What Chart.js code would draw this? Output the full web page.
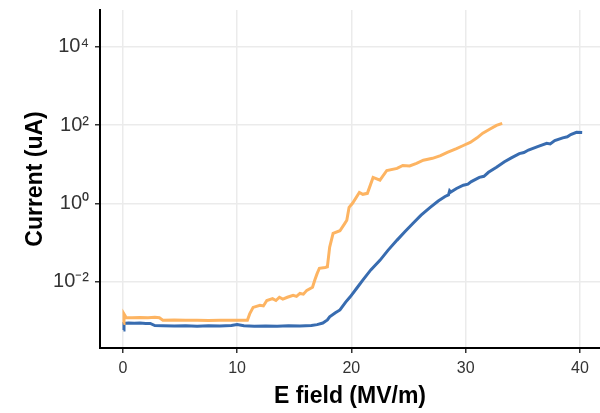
<!DOCTYPE html>
<html>
<head>
<meta charset="utf-8">
<script src="https://cdn.jsdelivr.net/npm/chart.js@4/dist/chart.umd.min.js"></script>
<style>
html,body{margin:0;padding:0;background:#fff;}
#c{display:block;}
</style>
</head>
<body>
<canvas id="c" width="600" height="413"></canvas>
<script>
// E field (MV/m) and current (uA) readings
const blueX = [0.05,0.1,0.5,1.0,1.5,2.0,2.4,2.8,3.5,4.5,5.5,6.5,7.5,8.5,9.5,10.0,10.6,11.5,12.5,13.5,14.5,15.5,16.5,17.0,17.5,17.9,18.1,18.6,19.0,19.5,19.9,20.5,21.0,21.7,22.5,23.2,24.0,24.7,25.4,26.1,26.9,27.6,28.2,28.5,28.6,28.7,29.2,29.8,30.2,30.5,31.2,31.6,32.0,32.7,33.4,34.0,34.7,35.1,35.5,36.3,37.1,37.4,37.8,38.5,38.9,39.2,39.7,40.2];
const blueY = [5.8e-4,8.6e-4,8.8e-4,8.7e-4,8.8e-4,8.6e-4,8.6e-4,7.6e-4,7.5e-4,7.4e-4,7.5e-4,7.3e-4,7.5e-4,7.4e-4,7.6e-4,8.0e-4,7.5e-4,7.3e-4,7.4e-4,7.3e-4,7.5e-4,7.4e-4,7.6e-4,8.0e-4,8.8e-4,1.05e-3,1.26e-3,1.6e-3,1.9e-3,3.0e-3,4.1e-3,7.0e-3,1.1e-2,2.0e-2,3.5e-2,6.3e-2,0.115,0.19,0.31,0.50,0.79,1.15,1.5,1.65,2.1,1.95,2.4,2.9,3.1,3.6,4.6,4.9,6.2,8.3,11.5,14.5,18.6,19.8,23,28,34,33,40,47,50,57,65,64];

const orangeX = [0.05,0.1,0.3,0.8,1.5,2.2,2.8,3.2,3.5,4.5,5.5,6.5,7.5,8.5,9.5,10.5,10.9,11.1,11.4,12.0,12.3,12.6,13.1,13.4,13.7,14.0,14.4,14.9,15.2,15.5,15.8,16.1,16.6,16.8,17.0,17.2,17.7,17.9,18.1,18.4,19.0,19.4,19.6,19.8,20.1,20.7,21.0,21.4,21.9,22.5,23.1,24.0,24.5,25.1,25.7,26.3,27.1,27.8,28.4,29.2,29.8,30.4,31.0,31.5,32.1,32.7,33.2];
const orangeY = [8.5e-4,1.5e-3,1.2e-3,1.19e-3,1.22e-3,1.2e-3,1.23e-3,1.2e-3,1.04e-3,1.05e-3,1.03e-3,1.04e-3,1.02e-3,1.04e-3,1.03e-3,1.04e-3,1.03e-3,1.5e-3,2.2e-3,2.5e-3,2.4e-3,3.3e-3,3.7e-3,3.3e-3,4.0e-3,3.6e-3,4.0e-3,4.5e-3,4.2e-3,5.0e-3,4.8e-3,6.0e-3,7.2e-3,1.1e-2,1.6e-2,2.2e-2,2.3e-2,2.4e-2,7.6e-2,0.17,0.20,0.30,0.37,0.79,1.0,1.9,1.7,1.8,4.6,3.9,6.9,7.8,9.3,9.0,10.5,12.6,14.1,16.5,20,25,30,36,47,62,78,98,110];

const xTicks = [0, 10, 20, 30, 40];
const yTicks = [1e-2, 1, 1e2, 1e4];

const sup = {'0':'\u2070','1':'\u00B9','2':'\u00B2','3':'\u00B3','4':'\u2074','5':'\u2075','6':'\u2076','7':'\u2077','8':'\u2078','9':'\u2079','-':'\u207B'};
function powLabel(v){
  const e = String(Math.round(Math.log10(v)));
  return '10' + e.split('').map(c => sup[c]).join('');
}
function pts(xs, ys){ return xs.map((x,i)=>({x:x, y:ys[i]})); }

const FONT = "'Liberation Sans', Arial, Helvetica, sans-serif";

new Chart(document.getElementById('c'), {
  type: 'scatter',
  data: {
    datasets: [
      {data: pts(orangeX, orangeY), borderColor: '#fdb462', backgroundColor: '#fdb462', showLine: true, borderWidth: 3, pointRadius: 0, tension: 0},
      {data: pts(blueX, blueY), borderColor: '#386cb0', backgroundColor: '#386cb0', showLine: true, borderWidth: 3, pointRadius: 0, tension: 0}
    ]
  },
  options: {
    responsive: false,
    animation: false,
    devicePixelRatio: 1,
    layout: {padding: {top: 10, right: 0, left: 0, bottom: 0}},
    plugins: {legend: {display: false}, tooltip: {enabled: false}},
    scales: {
      x: {
        type: 'linear',
        min: -2,
        max: 41.76,
        afterBuildTicks: s => { s.ticks = xTicks.map(v => ({value: v})); },
        afterFit: s => { s.height = 65; s.paddingLeft = 0; s.paddingRight = 0; },
        grid: {color: '#ebebeb', lineWidth: 1.5, drawTicks: true, tickLength: 5, tickColor: '#333', tickWidth: 1.5},
        border: {display: true, color: '#000', width: 2},
        ticks: {color: '#333', font: {family: FONT, size: 16}, padding: 6, maxRotation: 0},
        title: {display: true, text: 'E field (MV/m)', color: '#000', font: {family: FONT, size: 23, weight: 'bold'}, padding: {top: 0, bottom: 3}}
      },
      y: {
        type: 'logarithmic',
        min: Math.pow(10, -3.694),
        max: Math.pow(10, 4.937),
        afterBuildTicks: s => { s.ticks = yTicks.map(v => ({value: v})); },
        afterFit: s => { s.width = 100; s.paddingTop = 0; s.paddingBottom = 0; },
        grid: {color: '#ebebeb', lineWidth: 1.5, drawTicks: true, tickLength: 5, tickColor: '#333', tickWidth: 1.5},
        border: {display: true, color: '#000', width: 2},
        ticks: {color: '#333', font: {family: FONT, size: 20}, padding: 6, callback: v => powLabel(v)},
        title: {display: true, text: 'Current (uA)', color: '#000', font: {family: FONT, size: 23, weight: 'bold'}, padding: {top: 22, bottom: 0}}
      }
    }
  }
});
</script>
</body>
</html>
